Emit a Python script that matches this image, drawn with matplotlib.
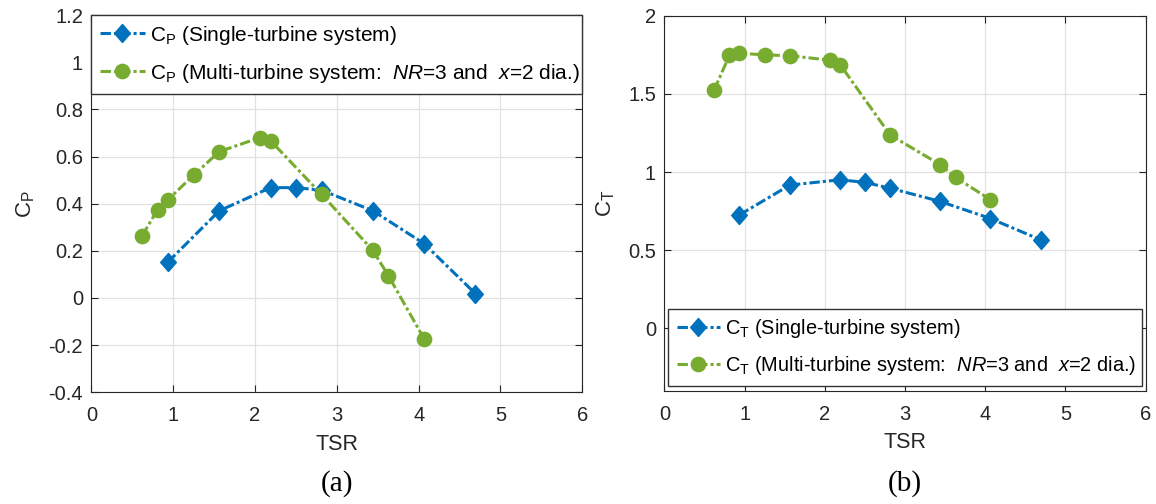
import matplotlib
matplotlib.use("Agg")
import matplotlib.pyplot as plt
from matplotlib.path import Path
from matplotlib.ticker import FuncFormatter

plt.rcParams['font.family'] = ['Liberation Sans', 'DejaVu Sans']
plt.rcParams['mathtext.fontset'] = 'custom'
plt.rcParams['mathtext.rm'] = 'Liberation Sans'
plt.rcParams['mathtext.it'] = 'Liberation Sans:italic'
plt.rcParams['mathtext.bf'] = 'Liberation Sans:bold'
plt.rcParams['lines.scale_dashes'] = False

# Tip speed ratios
tsr_single = [0.935, 1.565, 2.19, 2.50, 2.815, 3.44, 4.065, 4.695]
tsr_multi = [0.62, 0.81, 0.935, 1.25, 1.565, 2.06, 2.19, 2.815, 3.44, 3.63, 4.065]

# Power coefficient
cp_single = [0.152, 0.370, 0.468, 0.468, 0.457, 0.370, 0.231, 0.018]
cp_multi = [0.264, 0.374, 0.416, 0.521, 0.621, 0.680, 0.667, 0.439, 0.202, 0.095, -0.172]

# Thrust coefficient
ct_single = [0.726, 0.917, 0.951, 0.934, 0.897, 0.812, 0.703, 0.566]
ct_multi = [1.524, 1.746, 1.760, 1.750, 1.744, 1.716, 1.688, 1.237, 1.047, 0.966, 0.823]

blue = '#0072BD'
green = '#77AC30'
ink = '#262626'

# Slightly tall diamond marker
diamond = Path([(0, 1), (0.87, 0), (0, -1), (-0.87, 0), (0, 1)],
               [Path.MOVETO, Path.LINETO, Path.LINETO, Path.LINETO, Path.CLOSEPOLY])

fig = plt.figure(figsize=(11.56, 5.04), dpi=100)
ax1 = fig.add_axes([0.0790, 0.2216, 0.4247, 0.7486])
ax2 = fig.add_axes([0.5747, 0.2242, 0.4164, 0.7446])

fmt = FuncFormatter(lambda v, p: '%g' % round(v, 6))


def style(ax):
    ax.set_xlim(0, 6)
    ax.set_xticks(range(0, 7))
    ax.grid(True, color='#e2e2e2', linewidth=0.9)
    ax.set_axisbelow(True)
    ax.tick_params(direction='in', top=True, right=True, labelsize=14.5,
                   length=5, width=0.8, colors=ink)
    ax.tick_params(axis='x', pad=10)
    ax.tick_params(axis='y', pad=6)
    for s in ax.spines.values():
        s.set_color(ink)
        s.set_linewidth(0.8)
    ax.yaxis.set_major_formatter(fmt)
    ax.set_xlabel('TSR', fontsize=15.5, color=ink, labelpad=6)


line_kw = dict(linestyle=(0, (7.5, 2.2, 2.2, 2.2)), linewidth=2.2)
dia_kw = dict(marker=diamond, markersize=13)
dot_kw = dict(marker='o', markersize=10.3)
leg_kw = dict(borderaxespad=0, fancybox=False, framealpha=1,
              edgecolor='#333333', handlelength=2.15, handletextpad=0.25,
              labelspacing=0.72, borderpad=0.42)

ax1.plot(tsr_single, cp_single, color=blue, label=r'C$_\mathrm{P}$ (Single-turbine system)',
         **dia_kw, **line_kw)
ax1.plot(tsr_multi, cp_multi, color=green,
         label=r'C$_\mathrm{P}$ (Multi-turbine system:  $\mathit{NR}$=3 and  $\mathit{x}$=2 dia.)',
         **dot_kw, **line_kw)
style(ax1)
ax1.set_ylim(-0.4, 1.2)
ax1.set_yticks([-0.4, -0.2, 0, 0.2, 0.4, 0.6, 0.8, 1.0, 1.2])
ax1.set_ylabel(r'C$_\mathrm{P}$', fontsize=16, color=ink, labelpad=8)
leg1 = ax1.legend(loc='upper left', bbox_to_anchor=(0, 1, 1, 0), mode='expand',
                  fontsize=15, **leg_kw)
leg1.get_frame().set_linewidth(1.0)

ax2.plot(tsr_single, ct_single, color=blue, label=r'C$_\mathrm{T}$ (Single-turbine system)',
         **dia_kw, **line_kw)
ax2.plot(tsr_multi, ct_multi, color=green,
         label=r'C$_\mathrm{T}$ (Multi-turbine system:  $\mathit{NR}$=3 and  $\mathit{x}$=2 dia.)',
         **dot_kw, **line_kw)
style(ax2)
ax2.set_ylim(-0.4, 2)
ax2.set_yticks([0, 0.5, 1, 1.5, 2])
ax2.set_ylabel(r'C$_\mathrm{T}$', fontsize=16, color=ink, labelpad=8)
leg2 = ax2.legend(loc='lower left', bbox_to_anchor=(0.0083, 0.014, 0.9847, 0),
                  mode='expand', fontsize=14.4, **leg_kw)
leg2.get_frame().set_linewidth(1.0)

fig.text(0.2915, 0.026, '(a)', fontsize=21, family='Liberation Serif', ha='center', color='black')
fig.text(0.7829, 0.026, '(b)', fontsize=21, family='Liberation Serif', ha='center', color='black')

fig.savefig('out.png', dpi=100)
